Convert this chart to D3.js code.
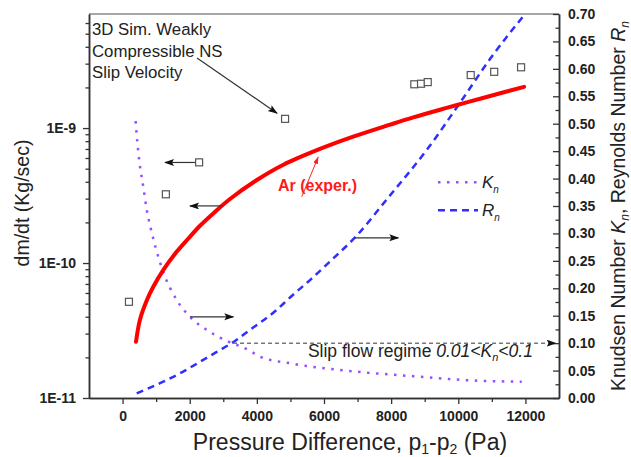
<!DOCTYPE html>
<html>
<head>
<meta charset="utf-8">
<script src="https://cdn.jsdelivr.net/npm/d3@7"></script>
<style>
body { margin: 0; background: #fff; }
text { font-family: "Liberation Sans", Arial, sans-serif; fill: #222; }
</style>
</head>
<body>
<div id="chart"></div>
<script>
// 3D simulation points (open squares), left axis
var simP = [190, 1290, 2280, 4840, 8690, 8890, 9090, 10370, 11070, 11870]
var simFlow = [5.16e-11, 3.23e-10, 5.57e-10, 1.17e-9, 2.11e-9, 2.13e-9, 2.19e-9, 2.47e-9, 2.61e-9, 2.82e-9]

// Ar experiment (red), left axis
var arP = [400, 520, 720, 915, 1210, 1610, 1960, 2300, 2750, 3200, 4000, 4790, 5880, 6870, 7970, 8660, 9650, 10250, 11140, 11960]
var arFlow = [2.61e-11, 3.82e-11, 5.28e-11, 6.67e-11, 8.87e-11, 1.21e-10, 1.52e-10, 1.88e-10, 2.39e-10, 2.98e-10, 4.12e-10, 5.35e-10, 7.0e-10, 8.63e-10, 1.06e-9, 1.2e-9, 1.41e-9, 1.55e-9, 1.78e-9, 2.02e-9]

// Knudsen number, right axis
var knP = [390, 420, 500, 620, 720, 840, 990, 1210, 1610, 2010, 2510, 3000, 3750, 4100, 5000, 6480, 8170, 8860, 10150, 11890]
var knVal = [0.505, 0.48, 0.431, 0.384, 0.343, 0.309, 0.273, 0.23, 0.179, 0.148, 0.124, 0.107, 0.0875, 0.0753, 0.0632, 0.051, 0.0419, 0.0389, 0.0328, 0.0297]

// Reynolds number, right axis
var rnP = [421, 1115, 1711, 2306, 2804, 3349, 3745, 4541, 5038, 5583, 6180, 6974, 7868, 9107, 10149, 10945, 11990]
var rnVal = [0.0086, 0.027, 0.045, 0.066, 0.084, 0.104, 0.122, 0.158, 0.186, 0.215, 0.249, 0.296, 0.362, 0.456, 0.547, 0.618, 0.70]

var xTicks = [0, 2000, 4000, 6000, 8000, 10000, 12000]
var xMinor = [1000, 3000, 5000, 7000, 9000, 11000]
var leftTicks = [1e-11, 1e-10, 1e-9]
var leftLabels = ["1E-11", "1E-10", "1E-9"]
var rightTicks = [0, 0.05, 0.1, 0.15, 0.2, 0.25, 0.3, 0.35, 0.4, 0.45, 0.5, 0.55, 0.6, 0.65, 0.7]

var width = 631,
    height = 457
var margin = {top: 14, right: 72, bottom: 59, left: 89}
var x0 = margin.left, x1 = width - margin.right,
    y0 = margin.top, y1 = height - margin.bottom

var svg = d3.select('#chart').append('svg')
    .attr('width', width)
    .attr('height', height)

var x = d3.scaleLinear().domain([-1000, 13000]).range([x0, x1])
var yL = d3.scaleLog().domain([1e-11, 7e-9]).range([y1, y0])
var yR = d3.scaleLinear().domain([0, 0.7]).range([y1, y0])

var defs = svg.append("defs")
defs.append("marker").attr("id", "head")
    .attr("markerUnits", "userSpaceOnUse")
    .attr("markerWidth", 10).attr("markerHeight", 8)
    .attr("refX", 9).attr("refY", 3.5).attr("orient", "auto")
    .append("path").attr("d", "M0,0 L10,3.5 L0,7 L2,3.5 Z").attr("fill", "#111")
defs.append("marker").attr("id", "headRed")
    .attr("markerUnits", "userSpaceOnUse")
    .attr("markerWidth", 8).attr("markerHeight", 6)
    .attr("refX", 7).attr("refY", 2.5).attr("orient", "auto")
    .append("path").attr("d", "M0,0 L7,2.5 L0,5 Z").attr("fill", "#f22")

// top border
svg.append("line")
    .attr("x1", x0).attr("x2", x1).attr("y1", y0).attr("y2", y0)
    .attr("stroke", "#888").attr("stroke-width", 1.5)

// minor ticks on the log axis
var leftMinor = []
leftTicks.forEach(function (d) {
    for (var k = 2; k <= 9; k++) {
        if (d * k <= 7e-9) leftMinor.push(d * k)
    }
})
var rightMinor = []
for (var i = 0; i < rightTicks.length - 1; i++) rightMinor.push(rightTicks[i] + 0.025)

function styleAxis(g) {
    g.select(".domain").attr("stroke", "#333").attr("stroke-width", 1.5)
    g.selectAll(".tick line").attr("stroke", "#333").attr("stroke-width", 1.3)
    g.selectAll(".tick text").attr("font-size", 14).attr("fill", "#333")
        .attr("font-weight", "bold")
        .attr("font-family", '"Liberation Sans", Arial, sans-serif')
}

svg.append("g").attr("transform", "translate(0," + y1 + ")")
    .call(d3.axisBottom(x).tickValues(xMinor).tickFormat("").tickSize(4).tickSizeOuter(0))
    .call(styleAxis)
svg.append("g").attr("transform", "translate(0," + y1 + ")")
    .call(d3.axisBottom(x).tickValues(xTicks).tickFormat(d3.format("d")).tickSize(6).tickSizeOuter(0).tickPadding(7))
    .call(styleAxis)

svg.append("g").attr("transform", "translate(" + x0 + ",0)")
    .call(d3.axisLeft(yL).tickValues(leftMinor).tickFormat("").tickSize(3.5).tickSizeOuter(0))
    .call(styleAxis)
svg.append("g").attr("transform", "translate(" + x0 + ",0)")
    .call(d3.axisLeft(yL).tickValues(leftTicks).tickFormat(function (d, i) { return leftLabels[i] })
        .tickSize(6).tickSizeOuter(0).tickPadding(7))
    .call(styleAxis)

svg.append("g").attr("transform", "translate(" + x1 + ",0)")
    .call(d3.axisRight(yR).tickValues(rightMinor).tickFormat("").tickSizeInner(-3.5).tickSizeOuter(0))
    .call(styleAxis)
svg.append("g").attr("transform", "translate(" + x1 + ",0)")
    .call(d3.axisRight(yR).tickValues(rightTicks).tickFormat(d3.format(".2f"))
        .tickSizeInner(-6).tickSizeOuter(0).tickPadding(9))
    .call(styleAxis)

// axis titles
var xt = svg.append("text").attr("x", 350).attr("y", 450)
    .attr("text-anchor", "middle").attr("font-size", 23)
xt.append("tspan").text("Pressure Difference, p")
xt.append("tspan").attr("font-size", 14).attr("dy", 4).text("1")
xt.append("tspan").attr("dy", -4).text("-p")
xt.append("tspan").attr("font-size", 14).attr("dy", 4).text("2")
xt.append("tspan").attr("dy", -4).text(" (Pa)")

svg.append("text")
    .attr("transform", "translate(28.5," + 203 + ") rotate(-90)")
    .attr("text-anchor", "middle").attr("font-size", 19.5)
    .text("dm/dt (Kg/sec)")

var rt = svg.append("text")
    .attr("transform", "translate(625," + 206 + ") rotate(-90)")
    .attr("text-anchor", "middle").attr("font-size", 19.5)
rt.append("tspan").text("Knudsen Number ")
rt.append("tspan").attr("font-style", "italic").text("K")
rt.append("tspan").attr("font-style", "italic").attr("font-size", 12).attr("dy", 4).text("n")
rt.append("tspan").attr("dy", -4).text(", Reynolds Number ")
rt.append("tspan").attr("font-style", "italic").text("R")
rt.append("tspan").attr("font-style", "italic").attr("font-size", 12).attr("dy", 4).text("n")

// curves
var plot = svg.append("g")

var knLine = d3.line()
    .x(function (d, i) { return x(knP[i]) })
    .y(function (d) { return yR(d) })
    .curve(d3.curveMonotoneX)
plot.append("path").attr("d", knLine(knVal))
    .attr("fill", "none").attr("stroke", "#9a4dff").attr("stroke-width", 2.5)
    .attr("stroke-dasharray", "2.5,6.5")

var rnLine = d3.line()
    .x(function (d, i) { return x(rnP[i]) })
    .y(function (d) { return yR(d) })
    .curve(d3.curveMonotoneX)
plot.append("path").attr("d", rnLine(rnVal))
    .attr("fill", "none").attr("stroke", "#2f2fff").attr("stroke-width", 2.5)
    .attr("stroke-dasharray", "7,5")

var arLine = d3.line()
    .x(function (d, i) { return x(arP[i]) })
    .y(function (d) { return yL(d) })
    .curve(d3.curveCatmullRom.alpha(0.5))
plot.append("path").attr("d", arLine(arFlow))
    .attr("fill", "none").attr("stroke", "#ff0000").attr("stroke-width", 4)
    .attr("stroke-linecap", "round")

plot.selectAll(".sim").data(simFlow).enter().append("rect")
    .attr("class", "sim")
    .attr("x", function (d, i) { return x(simP[i]) - 3.5 })
    .attr("y", function (d) { return yL(d) - 3.5 })
    .attr("width", 7).attr("height", 7)
    .attr("fill", "#fff").attr("stroke", "#555").attr("stroke-width", 1.2)

// annotation arrows: [p1, v1, p2, v2, axis]
var arrows = [
    [2217, 3.3e-9, 4600, 1.29e-9, "L"],
    [2158, 5.56e-10, 1264, 5.56e-10, "L"],
    [2953, 2.65e-10, 2009, 2.65e-10, "L"],
    [2009, 0.148, 3299, 0.148, "R"],
    [6924, 0.292, 8214, 0.292, "R"]
]
arrows.forEach(function (a) {
    var s = a[4] === "L" ? yL : yR
    plot.append("line")
        .attr("x1", x(a[0])).attr("y1", s(a[1]))
        .attr("x2", x(a[2])).attr("y2", s(a[3]))
        .attr("stroke", "#333").attr("stroke-width", 1.2)
        .attr("marker-end", "url(#head)")
})

// slip flow regime line
plot.append("line")
    .attr("x1", x(3290)).attr("x2", x(12900))
    .attr("y1", yR(0.1)).attr("y2", yR(0.1))
    .attr("stroke", "#777").attr("stroke-width", 1.5).attr("stroke-dasharray", "4,3")
    .attr("marker-end", "url(#head)")

var st = plot.append("text").attr("x", x(5520)).attr("y", yR(0.075)).attr("font-size", 17.5)
st.append("tspan").text("Slip flow regime ")
st.append("tspan").attr("font-style", "italic").text("0.01<K")
st.append("tspan").attr("font-style", "italic").attr("font-size", 11).attr("dy", 4).text("n")
st.append("tspan").attr("font-style", "italic").attr("dy", -4).text("<0.1")

// Ar label with red pointer
plot.append("line")
    .attr("x1", x(5336)).attr("y1", yL(3.1e-10))
    .attr("x2", x(5830)).attr("y2", yL(6.12e-10))
    .attr("stroke", "#f22").attr("stroke-width", 1)
    .attr("marker-end", "url(#headRed)")
plot.append("text").attr("x", x(4629)).attr("y", yL(3.44e-10))
    .attr("font-size", 16).attr("font-weight", "bold")
    .style("fill", "#ff1a1a")
    .text("Ar (exper.)")

// simulation note, top left
var note = ["3D Sim. Weakly", "Compressible NS", "Slip Velocity"]
plot.selectAll(".note").data(note).enter().append("text")
    .attr("class", "note")
    .attr("x", x0 + 3)
    .attr("y", function (d, i) { return y0 + 21 + i * 21.7 })
    .attr("font-size", 16.8)
    .text(function (d) { return d })

// legend
var legend = [
    {name: "K", color: "#9a4dff", dash: "2.5,6.5"},
    {name: "R", color: "#2f2fff", dash: "7,5"}
]
var lg = plot.selectAll(".legend").data(legend).enter().append("g")
    .attr("class", "legend")
    .attr("transform", function (d, i) { return "translate(438," + (182.3 + i * 28) + ")" })
lg.append("line").attr("x1", 0).attr("x2", 40)
    .attr("stroke", function (d) { return d.color })
    .attr("stroke-width", 2.5)
    .attr("stroke-dasharray", function (d) { return d.dash })
var lt = lg.append("text").attr("x", 44).attr("y", 6).attr("font-size", 17).attr("font-style", "italic")
lt.append("tspan").text(function (d) { return d.name })
lt.append("tspan").attr("font-size", 10).attr("dy", 5).text("n")
</script>
</body>
</html>
